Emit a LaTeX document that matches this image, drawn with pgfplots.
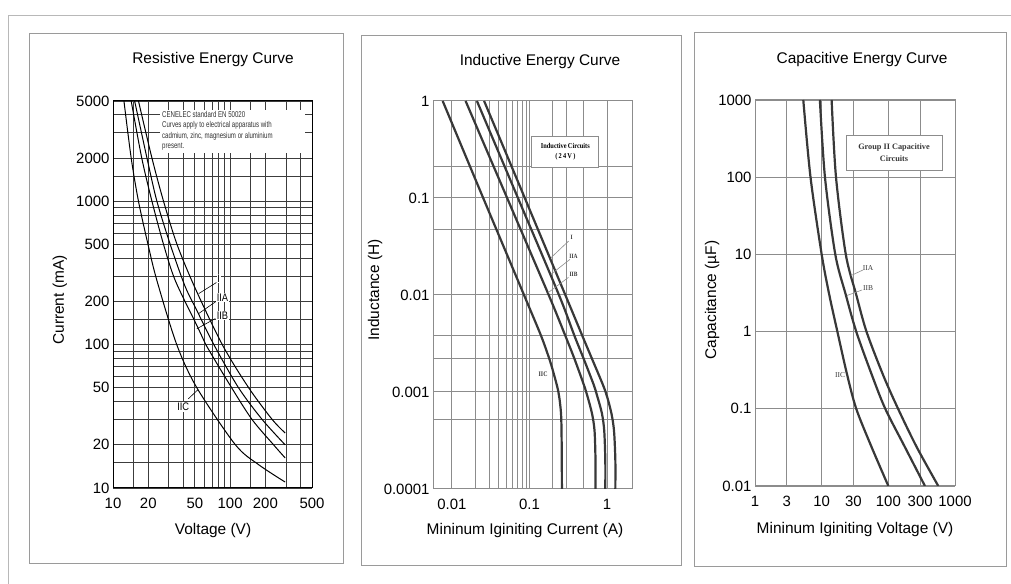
\documentclass[border=0pt]{standalone}
\usepackage{pgfplots}
\pgfplotsset{compat=1.18}
\usepackage{pgfplotstable}
\usepackage{fontspec}
\setmainfont{Liberation Sans}
\newfontfamily\narrowfont[FakeStretch=0.72]{Liberation Sans}
\newfontfamily\lblfont[FakeStretch=0.85]{Liberation Sans}
\newfontfamily\seriffont{Liberation Serif}
\newfontfamily\narrowserif[FakeStretch=0.85]{Liberation Serif}
\definecolor{crv}{HTML}{383838}
\definecolor{gridA}{HTML}{3C3C3C}
\definecolor{gridB}{HTML}{8C8C8C}
\definecolor{framec}{HTML}{9A9A9A}
\newcommand{\fs}[1]{\fontsize{#1}{#1}\selectfont}

% Resistive (V, mA)
\pgfplotstableread{
V I
12.4 5000
14.3 2000
16.5 1000
19.9 500
23.7 280
35 100
52 50
111 20
176 14.5
295 11
}\resIIC
\pgfplotstableread{
V I
14.3 5000
17.6 2000
21.5 1000
27 500
34 280
52 136
62 100
103 50
154 30
235 20
295 16.2
}\resIIB
\pgfplotstableread{
V I
15.3 5000
19.5 2000
23.7 1000
30.8 500
41 258
52 173
72.6 100
118 50
188 30
295 20
}\resIIA
\pgfplotstableread{
V I
16.5 5000
21.5 2000
27 1000
35.2 500
50 250
85.7 100
144 50
229 30
295 24.2
}\resI

% Inductive (A, H)
\pgfplotstableread{
I L
0.0076 1
0.0253 0.1
0.085 0.01
0.141 0.0038
0.18 0.0022
0.203 0.0016
0.236 0.001
0.255 0.0006
0.26 0.0003
0.262 0.0001
}\indIIC
\pgfplotstableread{
I L
0.015 1
0.0515 0.1
0.177 0.01
0.29 0.0038
0.38 0.0022
0.5 0.0012
0.56 0.0009
0.64 0.0006
0.69 0.0004
0.71 0.0002
0.71 0.0001
}\indIIB
\pgfplotstableread{
I L
0.021 1
0.071 0.1
0.24 0.01
0.38 0.0038
0.5 0.0022
0.67 0.0012
0.75 0.0009
0.86 0.0006
0.92 0.0004
0.95 0.0002
0.95 0.0001
}\indIIA
\pgfplotstableread{
I L
0.026 1
0.087 0.1
0.29 0.01
0.48 0.0038
0.64 0.0022
0.88 0.0012
1.0 0.0009
1.14 0.0006
1.23 0.0004
1.28 0.0002
1.28 0.0001
}\indI

% Capacitive (V, uF)
\pgfplotstableread{
Volt Cap
5.3 1000
6.8 100
10 10
13 3
17.2 1
24 0.28
33 0.1
56 0.032
100 0.01
}\cpIIC
\pgfplotstableread{
Volt Cap
9.4 1000
11.2 100
16 10
23 3
33 1
57 0.27
90 0.1
177 0.032
354 0.01
}\cpIIB
\pgfplotstableread{
Volt Cap
14.1 1000
16.4 100
23 10
33 3
47 1
84 0.27
140 0.1
266 0.032
561 0.01
}\cpIIA

\begin{document}
\begin{tikzpicture}[x=1bp,y=1bp]
\useasboundingbox (0,0) rectangle (1011,584);
\draw[framec!70, line width=0.8bp] (8,0) -- (8,569) -- (1011,569);
\draw[framec, line width=0.8bp] (29,21) rectangle (343,551);
\draw[framec, line width=0.8bp] (361,19) rectangle (681,549);
\draw[framec, line width=0.8bp] (694,18) rectangle (1006,552);

% ---------------- Panel 1
\begin{axis}[scale only axis, anchor=south west, xmode=log, ymode=log,
  major tick length=0pt, minor tick length=0pt,
  tick label style={font=\fs{15}}, xticklabel style={yshift=-7bp},
  at={(113bp,96bp)}, width=199bp, height=387bp,
  xmin=10, xmax=500, ymin=10, ymax=5000,
  xtick={10,20,50,100,200,500}, xticklabels={10,20,50,100,200,500},
  ytick={10,20,50,100,200,500,1000,2000,5000},
  yticklabels={10,20,50,100,200,500,1000,2000,5000},
  minor xtick={15,30,40,60,70,80,90,150,300,400},
  minor ytick={15,30,40,60,70,80,90,150,300,400,600,700,800,900,1500,3000,4000},
  grid=both,
  major grid style={gridA, line width=0.8bp},
  minor grid style={gridA, line width=0.8bp},
  axis line style={black, line width=1bp},
]
\addplot[black, line width=1bp, smooth] table {\resIIC};
\addplot[black, line width=1bp, smooth] table {\resIIB};
\addplot[black, line width=1bp, smooth] table {\resIIA};
\addplot[black, line width=1bp, smooth] table {\resI};
\draw[black, line width=0.6bp] (axis cs:76.4,271) -- (axis cs:54,227);
\draw[black, line width=0.6bp] (axis cs:77.8,203) -- (axis cs:53.5,164);
\draw[black, line width=0.6bp] (axis cs:74.8,152) -- (axis cs:52,129);
\draw[black, line width=0.6bp] (axis cs:44,41.9) -- (axis cs:53,48.4);
\node[fill=white, inner sep=0.8bp, font=\lblfont\fs{11}] at (axis cs:80,289) {I};
\node[fill=white, inner sep=0.8bp, font=\lblfont\fs{11}] at (axis cs:86,213) {IIA};
\node[fill=white, inner sep=0.8bp, font=\lblfont\fs{11}] at (axis cs:86,159) {IIB};
\node[fill=white, inner sep=0.8bp, font=\lblfont\fs{11}] at (axis cs:39.8,36.8) {IIC};
\end{axis}
\fill[white] (160,431) rectangle (305,474);
\node[anchor=north west, align=left, inner sep=0, font=\narrowfont\fontsize{8.5}{10.4}\selectfont, text=black!80]
  at (162,473) {CENELEC standard EN 50020\\Curves apply to electrical apparatus with\\cadmium, zinc, magnesium or aluminium\\present.};
\node[font=\fs{15.5}] at (213,524) {Resistive Energy Curve};
\node[font=\fs{15.5}] at (213,53) {Voltage (V)};
\node[font=\fs{15.5}, rotate=90] at (60,284) {Current (mA)};

% ---------------- Panel 2
\begin{axis}[scale only axis, anchor=south west, xmode=log, ymode=log,
  major tick length=0pt, minor tick length=0pt,
  tick label style={font=\fs{15}}, xticklabel style={yshift=-7bp},
  at={(433bp,95bp)}, width=199bp, height=388bp,
  xmin=0.0057, xmax=2.1, ymin=0.0001, ymax=1,
  xtick={0.01,0.1,1}, xticklabels={0.01,0.1,1},
  ytick={0.0001,0.001,0.01,0.1,1}, yticklabels={0.0001,0.001,0.01,0.1,1},
  minor xtick={0.02,0.03,0.04,0.05,0.06,0.07,0.08,0.09,0.2,0.3,0.5},
  minor ytick={0.21,0.048,0.0038,0.0022,0.00052},
  grid=both,
  major grid style={gridB, line width=1bp},
  minor grid style={gridB, line width=0.8bp},
  axis line style={gridB, line width=1bp},
]
\addplot[crv, line width=2.2bp, smooth] table {\indIIC};
\addplot[crv, line width=2.2bp, smooth] table {\indIIB};
\addplot[crv, line width=2.2bp, smooth] table {\indIIA};
\addplot[crv, line width=2.2bp, smooth] table {\indI};
\node[draw=gridB, line width=0.8bp, fill=white, align=center, inner sep=1bp,
  minimum width=67bp, minimum height=31bp, font=\narrowserif\bfseries\fontsize{7.5}{10}\selectfont]
  at (axis cs:0.29,0.3) {Inductive\,Circuits\\(\,2\,4\,V\,)};
\draw[gridB, line width=0.6bp] (axis cs:0.32,0.036) -- (axis cs:0.19,0.0243);
\draw[gridB, line width=0.6bp] (axis cs:0.333,0.0233) -- (axis cs:0.19,0.0164);
\draw[gridB, line width=0.6bp] (axis cs:0.318,0.0152) -- (axis cs:0.175,0.0106);
\node[inner sep=0.5bp, font=\narrowserif\bfseries\fs{6.5}, text=crv] at (axis cs:0.35,0.039) {I};
\node[inner sep=0.5bp, font=\narrowserif\bfseries\fs{6.5}, text=crv] at (axis cs:0.37,0.025) {IIA};
\node[inner sep=0.5bp, font=\narrowserif\bfseries\fs{6.5}, text=crv] at (axis cs:0.37,0.0164) {IIB};
\node[inner sep=0.5bp, font=\narrowserif\bfseries\fs{7}, text=crv] at (axis cs:0.15,0.00153) {IIC};
\end{axis}
\node[font=\fs{15.5}] at (540,522) {Inductive Energy Curve};
\node[font=\fs{15.5}] at (525,53) {Mininum Iginiting Current (A)};
\node[font=\fs{15.5}, rotate=90] at (375,294) {Inductance (H)};

% ---------------- Panel 3 (decade exponents on linear axes; data read in V and uF)
\begin{axis}[scale only axis, anchor=south west,
  major tick length=0pt, minor tick length=0pt,
  tick label style={font=\fs{15}}, xticklabel style={yshift=-7bp},
  at={(755bp,98bp)}, width=200bp, height=386bp,
  xmin=0, xmax=3, ymin=-2, ymax=3,
  xtick={0,0.47712,1,1.47712,2,2.47712,3}, xticklabels={1,3,10,30,100,300,1000},
  ytick={-2,-1,0,1,2,3}, yticklabels={0.01,0.1,1,10,100,1000},
  grid=major,
  major grid style={gridB, line width=0.9bp},
  axis line style={gridB, line width=1bp},
]
\addplot[crv, line width=2.2bp, smooth] table[x expr={log10(\thisrow{Volt})}, y expr={log10(\thisrow{Cap})}] {\cpIIC};
\addplot[crv, line width=2.2bp, smooth] table[x expr={log10(\thisrow{Volt})}, y expr={log10(\thisrow{Cap})}] {\cpIIB};
\addplot[crv, line width=2.2bp, smooth] table[x expr={log10(\thisrow{Volt})}, y expr={log10(\thisrow{Cap})}] {\cpIIA};
\end{axis}
\node[draw=gridB, line width=0.8bp, fill=white, align=center, inner sep=1bp,
  minimum width=96bp, minimum height=35bp, font=\seriffont\bfseries\fontsize{8.3}{12}\selectfont, text=crv]
  at (894,431.5) {Group II Capacitive\\Circuits};
\draw[gridB, line width=0.6bp] (863,314) -- (851,308.4);
\draw[gridB, line width=0.6bp] (862,294) -- (847,288.5);
\node[inner sep=0.5bp, font=\seriffont\fs{7.5}, text=crv] at (868,316) {IIA};
\node[inner sep=0.5bp, font=\seriffont\fs{7.5}, text=crv] at (868,296.3) {IIB};
\node[inner sep=0.5bp, font=\seriffont\fs{7.5}, text=crv] at (840,209.4) {IIC};
\node[font=\fs{15.5}] at (862,524) {Capacitive Energy Curve};
\node[font=\fs{15.5}] at (855,54) {Mininum Iginiting Voltage (V)};
\node[font=\fs{15.5}, rotate=90] at (712,284) {Capacitance (µF)};
\end{tikzpicture}
\end{document}
